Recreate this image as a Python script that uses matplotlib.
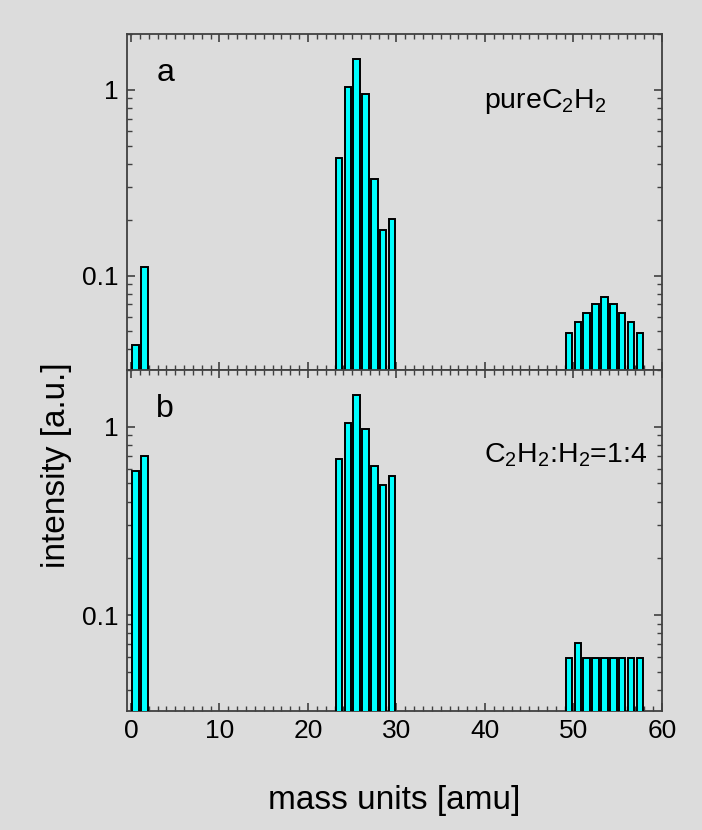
import numpy as np
import matplotlib
matplotlib.use('Agg')
import matplotlib.pyplot as plt
from matplotlib.ticker import LogLocator, MultipleLocator, FixedLocator, NullFormatter

plt.rcParams['font.family'] = ['Liberation Sans', 'DejaVu Sans']
plt.rcParams['mathtext.fontset'] = 'custom'
plt.rcParams['mathtext.rm'] = 'Liberation Sans'
plt.rcParams['mathtext.it'] = 'Liberation Sans'

# ── data ───────────────────────────────────────────────────────────────────
masses = [1, 2, 24, 25, 26, 27, 28, 29, 30, 50, 51, 52, 53, 54, 55, 56, 57, 58]
intensity_pure = [0.0415, 0.110,
                  0.43, 1.03, 1.47, 0.95, 0.33, 0.176, 0.20,
                  0.0483, 0.0552, 0.0622, 0.0692, 0.0758, 0.0692, 0.0622, 0.0552, 0.0483]
intensity_mix = [0.58, 0.70,
                 0.67, 1.04, 1.47, 0.97, 0.62, 0.49, 0.55,
                 0.058, 0.070, 0.058, 0.058, 0.058, 0.058, 0.058, 0.058, 0.058]
panel_letters = ['a', 'b']
panel_labels = [r'pure$\mathregular{C_2H_2}$', r'$\mathregular{C_2H_2}$:$\mathregular{H_2}$=1:4']

BG = '#dcdcdc'
SPINE = '#404040'

fig = plt.figure(figsize=(7.02, 8.30), dpi=100, facecolor=BG)
ax_a = fig.add_axes([0.1809, 0.5542, 0.7621, 0.4048])
ax_b = fig.add_axes([0.1809, 0.1434, 0.7621, 0.4108])

x = np.array(masses) - 0.5
for ax, vals, letter, lab, ty in zip([ax_a, ax_b], [intensity_pure, intensity_mix],
                                     panel_letters, panel_labels, [0.80, 0.75]):
    ax.set_facecolor(BG)
    ax.bar(x, vals, width=0.74, bottom=1e-3, color='#00ffff',
           edgecolor='black', linewidth=1.4, zorder=3)
    ax.set_yscale('log')
    ax.set_ylim(0.031, 2.0)
    ax.set_xlim(-0.45, 60)
    ax.yaxis.set_major_locator(FixedLocator([0.1, 1]))
    ax.set_yticklabels(['0.1', '1'])
    ax.yaxis.set_minor_locator(LogLocator(base=10, subs=np.arange(2, 10)))
    ax.yaxis.set_minor_formatter(NullFormatter())
    ax.xaxis.set_major_locator(MultipleLocator(10))
    ax.xaxis.set_minor_locator(MultipleLocator(1))
    ax.tick_params(which='both', direction='in', top=True, right=True,
                   color=SPINE, labelsize=19, pad=6)
    ax.tick_params(which='major', length=6, width=1.2)
    ax.tick_params(which='minor', length=3.5, width=1.0)
    for s in ax.spines.values():
        s.set_color(SPINE)
        s.set_linewidth(1.3)
    ax.text(0.055, 0.93, letter, transform=ax.transAxes, fontsize=23,
            va='top', ha='left')
    ax.text(0.668, ty, lab, transform=ax.transAxes,
            fontsize=20.5, va='center', ha='left')

ax_a.tick_params(labelbottom=False)
ax_b.set_xlabel('mass units [amu]', fontsize=24, labelpad=30)
fig.text(0.081, 0.439, 'intensity [a.u.]', rotation=90, fontsize=24,
         ha='center', va='center')

fig.savefig('out.png', dpi=100, facecolor=BG)
